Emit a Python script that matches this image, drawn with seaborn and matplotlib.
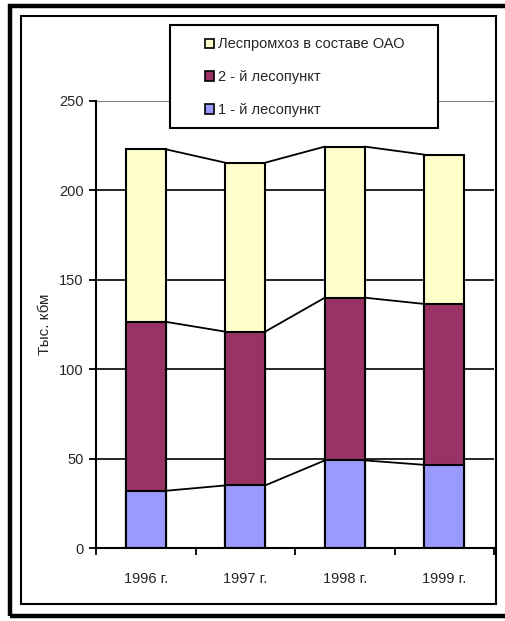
import numpy as np
import pandas as pd
import seaborn as sns
import matplotlib
matplotlib.use("Agg")
import matplotlib.pyplot as plt
from matplotlib.patches import Patch, Rectangle

# data (тыс. кбм)
years = ["1996 г.", "1997 г.", "1998 г.", "1999 г."]
punkt1 = [32.0, 35.0, 49.0, 46.5]
punkt2 = [94.5, 86.0, 91.0, 90.0]
lph = [96.5, 94.5, 84.5, 83.5]
series_names = ["1 - й лесопункт", "2 - й лесопункт", "Леспромхоз в составе ОАО"]
colors = ["#9999FF", "#993366", "#FFFFCC"]

df = pd.DataFrame({"year": years, "p1": punkt1, "p2": punkt2, "lph": lph})
df["c1"] = df["p1"]
df["c2"] = df["p1"] + df["p2"]
df["c3"] = df["c2"] + df["lph"]

sns.set_style("white")
plt.rcParams["font.family"] = ["Liberation Sans", "DejaVu Sans"]
plt.rcParams["font.size"] = 10.5
fs = 10.5

W, H = 505, 621
fig = plt.figure(figsize=(W / 100, H / 100), dpi=100)
ax = fig.add_axes([96 / W, (H - 548) / H, (494 - 96) / W, (548 - 101) / H])

bw = 0.4
# stacked bars: draw cumulative totals from the top down
for col, c in zip(["c3", "c2", "c1"], colors[::-1]):
    sns.barplot(data=df, x="year", y=col, color=c, width=bw, edgecolor="black",
                linewidth=1.5, saturation=1, ax=ax, zorder=3)

# series lines between the bars
for col in ["c1", "c2", "c3"]:
    v = df[col].values
    for i in range(len(v) - 1):
        ax.plot([i + bw / 2, i + 1 - bw / 2], [v[i], v[i + 1]], color="black",
                lw=1.3, zorder=2)

ax.set_xlim(-0.5, 3.5)
ax.set_ylim(0, 250)
ax.set_yticks([0, 50, 100, 150, 200, 250])
for y in [50, 100, 150, 200]:
    ax.axhline(y, color="black", lw=1.2, zorder=1)
ax.axhline(250, color="#808080", lw=1.5, zorder=1)

for s in ["top", "right"]:
    ax.spines[s].set_visible(False)
for s in ["left", "bottom"]:
    ax.spines[s].set_color("black")
    ax.spines[s].set_linewidth(1.5)
    ax.spines[s].set_zorder(4)

ax.set_xlabel("")
ax.set_ylabel("Тыс. кбм", fontsize=11)
ax.yaxis.set_label_coords(-0.11, 0.5)
ax.tick_params(axis="y", direction="out", length=5, width=1.3, color="black",
               pad=4, labelsize=fs, left=True)
ax.tick_params(axis="x", which="major", length=0, pad=17, labelsize=fs)
ax.set_xticks([-0.5, 0.5, 1.5, 2.5, 3.5], minor=True)
ax.tick_params(axis="x", which="minor", direction="out", length=5, width=1.3,
               color="black", bottom=True)

# legend box
fig.patches.append(Rectangle((170 / W, (H - 128) / H), (438 - 170) / W, (128 - 25) / H,
                             transform=fig.transFigure, fill=True, facecolor="white",
                             edgecolor="black", lw=1.5, zorder=5))
handles = [Patch(facecolor=c, edgecolor="black", lw=1.2) for c in colors]
leg = fig.legend(handles[::-1], series_names[::-1], loc="upper left",
                 bbox_to_anchor=(198 / W, (H - 30) / H), frameon=False,
                 handlelength=0.6, handleheight=0.6, handletextpad=0.3,
                 labelspacing=1.3, fontsize=fs, borderpad=0)
leg.set_zorder(6)

# chart frames
fig.patches.append(Rectangle((21 / W, (H - 604) / H), (496 - 21) / W, (604 - 16) / H,
                             transform=fig.transFigure, fill=False,
                             edgecolor="black", lw=1.5))
fig.patches.append(Rectangle((9.5 / W, (H - 616) / H), (540 - 9.5) / W, (616 - 6) / H,
                             transform=fig.transFigure, fill=False,
                             edgecolor="black", lw=3.2))

fig.savefig("out.png", dpi=100, facecolor="white")
